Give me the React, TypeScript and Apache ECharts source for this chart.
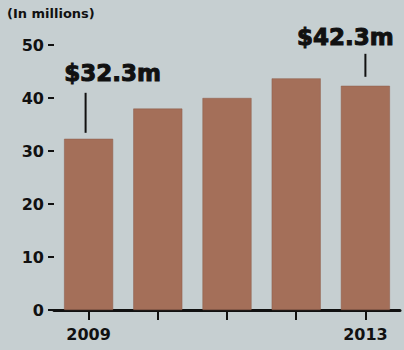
import React, { useEffect, useRef } from "react";
import * as echarts from "echarts";

const years = ["2009", "2010", "2011", "2012", "2013"];
const revenue = [32.3, 38, 40, 43.7, 42.3];
const shownYearLabels = ["2009", "2013"];
const annotations = [
  { index: 0, text: "$32.3m", dx: 24, textDy: -66, lineGap: 6, lineLen: 40, lineDx: -3 },
  { index: 4, text: "$42.3m", dx: -20, textDy: -49, lineGap: 9, lineLen: 23, lineDx: 0 },
];
const unitLabel = "(In millions)";

const BG = "#c6cfd1";
const BAR = "#a46f59";
const INK = "#111111";
const FONT = "DejaVu Sans";

export default function App() {
  const ref = useRef<HTMLDivElement>(null);
  useEffect(() => {
    if (!ref.current) return;
    const chart = echarts.init(ref.current, null, { renderer: "svg" });
    chart.setOption({
      animation: false,
      backgroundColor: BG,
      grid: { left: 54, right: 4, top: 45, bottom: 40 },
      xAxis: {
        type: "category",
        data: years,
        axisLine: { show: true, lineStyle: { color: INK, width: 3 } },
        axisTick: { show: true, alignWithLabel: true, length: 10, lineStyle: { color: INK, width: 2 } },
        axisLabel: {
          margin: 16,
          color: INK,
          fontFamily: FONT,
          fontWeight: "bold",
          fontSize: 16,
          interval: 0,
          formatter: (v: string) => (shownYearLabels.includes(v) ? v : ""),
        },
      },
      yAxis: {
        type: "value",
        min: 0,
        max: 50,
        interval: 10,
        splitLine: { show: false },
        axisLine: { show: false },
        axisTick: { show: true, length: 6, lineStyle: { color: INK, width: 2 } },
        axisLabel: {
          margin: 10,
          color: INK,
          fontFamily: FONT,
          fontWeight: "bold",
          fontSize: 16,
        },
      },
      series: [
        {
          type: "bar",
          data: revenue,
          barWidth: 49,
          itemStyle: { color: BAR, borderColor: "#8d5d4a", borderWidth: 0.5 },
        },
      ],
    });

    const graphics: any[] = [
      {
        type: "text",
        left: 7,
        top: 7,
        style: {
          text: unitLabel,
          fill: INK,
          font: `bold 13px '${FONT}'`,
        },
      },
    ];
    annotations.forEach((a) => {
      const p = chart.convertToPixel({ seriesIndex: 0 }, [a.index, revenue[a.index]]) as number[];
      const cx = p[0];
      const top = p[1];
      graphics.push({
        type: "line",
        shape: { x1: cx + a.lineDx, y1: top - a.lineGap, x2: cx + a.lineDx, y2: top - a.lineGap - a.lineLen },
        style: { stroke: INK, lineWidth: 2 },
      });
      graphics.push({
        type: "text",
        x: cx + a.dx,
        y: top + a.textDy,
        style: {
          text: a.text,
          fill: INK,
          font: `bold 23px '${FONT}'`,
          align: "center",
          verticalAlign: "middle",
          stroke: INK,
          lineWidth: 1,
        },
      });
    });
    chart.setOption({ graphic: graphics });
    return () => chart.dispose();
  }, []);
  return (
    <div
      ref={ref}
      style={{ position: "fixed", left: 0, top: 0, width: 404, height: 350, background: BG }}
    />
  );
}
